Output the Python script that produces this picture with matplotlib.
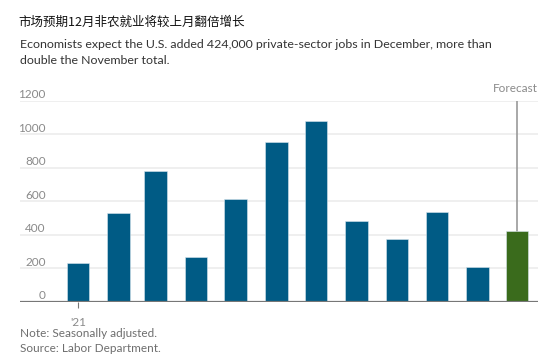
import matplotlib.pyplot as plt
import matplotlib.dates as mdates
import matplotlib.transforms as mtransforms
import pandas as pd

# Data (thousands of private-sector jobs)
months = pd.date_range('2021-01-01', periods=12, freq='MS')
jobs = [230, 530, 782, 265, 612, 957, 1083, 481, 375, 538, 209, 424]
is_forecast = [False] * 11 + [True]
y_ticks = [0, 200, 400, 600, 800, 1000, 1200]
x_tick_label = "'21"

title = '市场预期12月非农就业将较上月翻倍增长'
subtitle = ('Economists expect the U.S. added 424,000 private-sector jobs in December, more than\n'
            'double the November total.')
notes = 'Note: Seasonally adjusted.\nSource: Labor Department.'

blue = '#005b85'
green = '#3a6b1c'

W, H = 556, 364
fig = plt.figure(figsize=(W / 100, H / 100), dpi=100)

# axes placed in pixel terms to match the reference layout
left, right, top, bottom = 20, 538, 101, 301.7
ax = fig.add_axes([left / W, 1 - bottom / H, (right - left) / W, (bottom - top) / H])

colors = [green if f else blue for f in is_forecast]
ax.bar(months, jobs, width=17, color=colors, edgecolor='#d8e6ee', linewidth=0.4, zorder=3)

ax.set_xlim(mdates.date2num(pd.Timestamp('2020-11-18')), mdates.date2num(pd.Timestamp('2021-12-17')))
ax.set_ylim(0, 1200)

# light gridlines, labels sit just above them
for v in y_ticks[1:]:
    ax.axhline(v, color='#ececec', lw=1.2, zorder=1)
trans = mtransforms.blended_transform_factory(ax.transAxes, ax.transData)
for v in y_ticks:
    ax.annotate(str(v), xy=(0.05, v), xycoords=trans, xytext=(0, 0.5), textcoords='offset points',
                ha='right', va='bottom', fontsize=8.5, color='#8a8a8a', family='Lato')

# baseline
ax.axhline(0, color='#777777', lw=1.6, zorder=4)

for s in ax.spines.values():
    s.set_visible(False)
ax.set_yticks([])
ax.set_xticks([mdates.date2num(months[0])])
ax.set_xticklabels([x_tick_label], fontsize=8.5, color='#8a8a8a', family='Lato')
ax.tick_params(axis='x', length=4, width=0.8, color='#777777', pad=7)

# forecast marker line and label
fx = months[-1]
ax.plot([fx, fx], [jobs[-1], 1200], color='#999999', lw=1.2, zorder=2)
ax.text(1.0, 1240, 'Forecast', transform=trans, ha='right', va='bottom',
        fontsize=8.5, color='#8a8a8a', family='Lato')

fig.text(18 / W, 1 - 22 / H, title, ha='left', va='center', fontsize=9,
         family=['Noto Sans CJK SC', 'DejaVu Sans'], color='#111111')
fig.text(20 / W, 1 - 38.5 / H, subtitle, ha='left', va='top', fontsize=8.9,
         family='Lato', color='#333333', linespacing=1.6)
fig.text(20 / W, 1 - 328 / H, notes, ha='left', va='top', fontsize=8.5,
         family='Lato', color='#6e6e6e', linespacing=1.45)

fig.savefig('out.png', dpi=100)
